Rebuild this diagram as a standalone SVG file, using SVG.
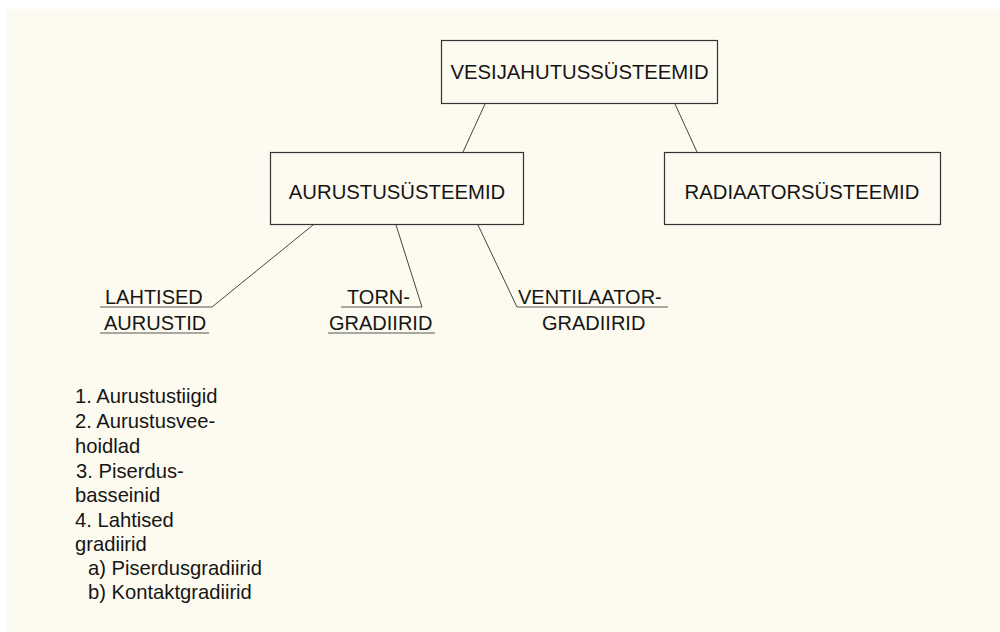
<svg xmlns="http://www.w3.org/2000/svg" width="1000" height="632" viewBox="0 0 1000 632">
  <style>
    .box { fill: none; stroke: #333; stroke-width: 1.2; }
    .link { stroke: #444; stroke-width: 1; fill: none; }
    .rule { stroke: #555; stroke-width: 1.2; }
    text { font-family: "Liberation Sans", Arial, sans-serif; fill: #151515; }
    .title { font-size: 20.3px; text-anchor: middle; }
    .label { font-size: 20px; }
    .list { font-size: 20.2px; }
  </style>

  <!-- sheet -->
  <rect x="0" y="0" width="1000" height="632" fill="#ffffff"/>
  <rect x="7" y="9" width="993" height="623" fill="#fdfbf0"/>

  <!-- connectors -->
  <g id="connectors">
    <line class="link" x1="485" y1="104" x2="463" y2="152"/>
    <line class="link" x1="675" y1="104" x2="697" y2="152"/>
    <line class="link" x1="313" y1="225" x2="212" y2="307"/>
    <line class="link" x1="396" y1="225" x2="422" y2="307"/>
    <line class="link" x1="478" y1="225" x2="517" y2="307"/>
  </g>

  <g id="vesijahutus">
    <rect class="box" x="441.5" y="40.5" width="276" height="63"/>
    <text class="title" x="579.5" y="79">VESIJAHUTUSSÜSTEEMID</text>
  </g>

  <g id="aurustus">
    <rect class="box" x="270.5" y="152.5" width="253" height="72"/>
    <text class="title" x="397" y="199">AURUSTUSÜSTEEMID</text>
  </g>

  <g id="radiaator">
    <rect class="box" x="664.5" y="152.5" width="276" height="72"/>
    <text class="title" x="802" y="199">RADIAATORSÜSTEEMID</text>
  </g>

  <g id="lahtised">
    <text class="label" x="105" y="304">LAHTISED</text>
    <line class="rule" x1="100" y1="307" x2="212" y2="307"/>
    <text class="label" x="104" y="330">AURUSTID</text>
    <line class="rule" x1="100" y1="333" x2="209" y2="333"/>
  </g>

  <g id="torn">
    <text class="label" x="347" y="304">TORN-</text>
    <line class="rule" x1="341" y1="307" x2="422" y2="307"/>
    <text class="label" x="329" y="330">GRADIIRID</text>
    <line class="rule" x1="328" y1="333" x2="435" y2="333"/>
  </g>

  <g id="ventilaator">
    <text class="label" x="518" y="304">VENTILAATOR-</text>
    <line class="rule" x1="517" y1="307" x2="668" y2="307"/>
    <text class="label" x="542" y="330">GRADIIRID</text>
  </g>

  <g id="loetelu">
    <text class="list" x="75" y="403">1. Aurustustiigid</text>
    <text class="list" x="75" y="428">2. Aurustusvee-</text>
    <text class="list" x="75" y="453">hoidlad</text>
    <text class="list" x="76" y="478">3. Piserdus-</text>
    <text class="list" x="75" y="502">basseinid</text>
    <text class="list" x="75" y="527">4. Lahtised</text>
    <text class="list" x="75" y="551">gradiirid</text>
    <text class="list" x="88" y="575">a) Piserdusgradiirid</text>
    <text class="list" x="88" y="599">b) Kontaktgradiirid</text>
  </g>
</svg>
